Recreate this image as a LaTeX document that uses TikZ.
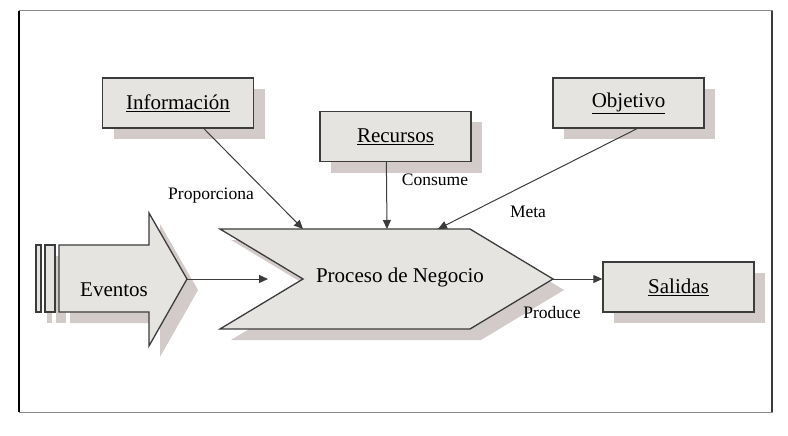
\documentclass[tikz,border=0pt]{standalone}
\usepackage{fontspec}
\setmainfont{Liberation Serif}
\usetikzlibrary{arrows.meta,calc,shadows}
\definecolor{boxfille}{HTML}{E6E4E1}
\definecolor{shadowe}{HTML}{D3CBC9}
\definecolor{linee}{HTML}{3C3C3C}
\definecolor{framee}{HTML}{8A8A8A}
\colorlet{boxfill}{boxfille}
\colorlet{shadowc}{shadowe}
\colorlet{linec}{linee}
\colorlet{framec}{framee}
\tikzstyle{boxshadow} = [
    drop shadow={shadow xshift=11pt, shadow yshift=-11pt, fill=shadowc, opacity=1}
    ]
\tikzstyle{conceptbox} = [
    draw=linec,
    fill=boxfill,
    line width=1.3pt,
    rectangle,
    minimum width=151pt,
    minimum height=50pt,
    boxshadow,
    font=\fontsize{21}{24}\selectfont
    ]
\tikzstyle{bigshape} = [
    draw=linec,
    fill=boxfill,
    line width=1.3pt,
    line join=miter,
    boxshadow
    ]
\tikzstyle{flow} = [
    draw=linec,
    line width=1pt,
    -{Triangle[length=9pt,width=8pt]}
    ]
\tikzstyle{flowlabel} = [
    font=\fontsize{17.5}{20}\selectfont,
    inner sep=0pt
    ]

\begin{document}
\begin{tikzpicture}[x=1pt,y=-1pt]
\useasboundingbox (0,0) rectangle (788,436);
\draw[framec, line width=1pt] (19,11) rectangle (772,412);
\draw[black, line width=2pt] (19,11) -- (19,412);
\draw[linec, line width=1.5pt] (772,11) -- (772,412);

% boxes
\node [conceptbox] (info) at (178,103) {\underline{Información}};
\node [conceptbox] (recur) at (395.5,136.5) {\underline{Recursos}};
\node [conceptbox] (objet) at (628.5,103) {\underline{Objetivo}};
\node [conceptbox] (salid) at (678.5,287) {\underline{Salidas}};

% eventos
\path [bigshape] (36,245) rectangle (41,312);
\path [bigshape] (45,245) rectangle (55,312);
\path [bigshape] (59,245) -- (149,245) -- (149,213) -- (187,279)
    -- (149,346) -- (149,312) -- (59,312) -- cycle;
\coordinate (evtip) at (187,279);
\node [font=\fontsize{21}{24}\selectfont] (event) at (114,290) {Eventos};

% proceso
\path [bigshape] (220,229) -- (470,229) -- (553,279) -- (470,329)
    -- (220,329) -- (303,279) -- cycle;
\coordinate (proctip) at (553,279);
\coordinate (procin) at (268,279);
\coordinate (procinfo) at (303,229);
\coordinate (procrecur) at (387,229);
\coordinate (procobjet) at (438,229);
\node [font=\fontsize{21}{24}\selectfont] (proc) at (400,277) {Proceso de Negocio};

% connectors
\draw [flow] ($(info.south west)!0.67!(info.south east)$) -- (procinfo);
\draw [flow] ($(recur.south west)!0.44!(recur.south east)$) -- (procrecur);
\draw [flow] ($(objet.south west)!0.556!(objet.south east)$) -- (procobjet);
\draw [flow] (evtip) -- (procin);
\draw [flow] (proctip) -- (proctip -| salid.west);

% labels
\node [flowlabel] (lprop) at (211,196) {Proporciona};
\node [flowlabel] (lcons) at (435,180) {Consume};
\node [flowlabel] (lmeta) at (528,212) {Meta};
\node [flowlabel] (lprod) at (552,313) {Produce};
\end{tikzpicture}
\end{document}
